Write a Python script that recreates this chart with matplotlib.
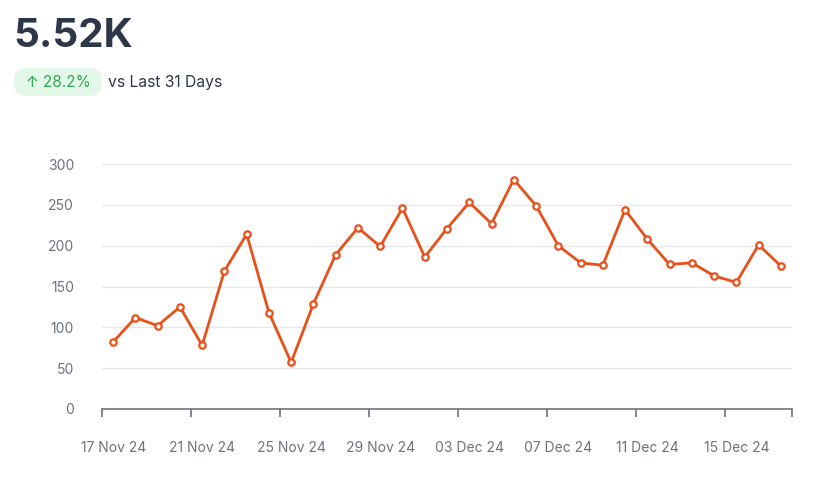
import matplotlib
matplotlib.use("Agg")
import matplotlib.pyplot as plt
from matplotlib.patches import FancyBboxPatch
import numpy as np

plt.rcParams['font.family'] = ['Inter', 'DejaVu Sans']

dates = ["17 Nov 24", "18 Nov 24", "19 Nov 24", "20 Nov 24", "21 Nov 24", "22 Nov 24",
         "23 Nov 24", "24 Nov 24", "25 Nov 24", "26 Nov 24", "27 Nov 24", "28 Nov 24",
         "29 Nov 24", "30 Nov 24", "01 Dec 24", "02 Dec 24", "03 Dec 24", "04 Dec 24",
         "05 Dec 24", "06 Dec 24", "07 Dec 24", "08 Dec 24", "09 Dec 24", "10 Dec 24",
         "11 Dec 24", "12 Dec 24", "13 Dec 24", "14 Dec 24", "15 Dec 24", "16 Dec 24",
         "17 Dec 24"]
values = [82, 112, 102, 125, 78, 169, 214, 118, 57, 129, 189, 222, 199, 246, 186,
          221, 253, 227, 281, 249, 200, 179, 176, 244, 208, 177, 179, 163, 155, 201, 175]
yticks = [0, 50, 100, 150, 200, 250, 300]
headline = "5.52K"
change = "↑ 28.2%"
compare = "vs Last 31 Days"

W, H = 821, 478
fig = plt.figure(figsize=(W / 100, H / 100), dpi=100)

# overlay in pixel coordinates for header elements
ov = fig.add_axes([0, 0, 1, 1])
ov.set_xlim(0, W)
ov.set_ylim(H, 0)
ov.axis("off")

ax = fig.add_axes([102 / W, (H - 409) / H, 690 / W, 245 / H])

x = np.arange(len(values))
line_color = "#e8501a"
ax.plot(x, values, color=line_color, lw=2, marker="o", ms=4.6,
        markerfacecolor="white", markeredgecolor=line_color, markeredgewidth=1.6,
        zorder=3, clip_on=False)

ax.set_xlim(-0.5, len(values) - 0.5)
ax.set_ylim(0, 300)
ax.set_yticks(yticks)
ax.set_yticklabels([str(v) for v in yticks])
ax.grid(axis="y", color="#e5e7eb", lw=1)
ax.set_axisbelow(True)

for s in ["top", "right", "left"]:
    ax.spines[s].set_visible(False)
ax.spines["bottom"].set_color("#6b7280")
ax.spines["bottom"].set_linewidth(1.2)

label_idx = list(range(0, len(values), 4))
ax.set_xticks(label_idx)
ax.set_xticklabels([dates[i] for i in label_idx])
ax.set_xticks(np.arange(-0.5, len(values), 4).tolist() + [len(values) - 0.5], minor=True)
ax.tick_params(axis="x", which="major", length=0, pad=23, labelsize=10, labelcolor="#6b7280")
ax.tick_params(axis="x", which="minor", length=6, width=1.2, color="#6b7280", direction="out")
ax.tick_params(axis="y", length=0, pad=20, labelsize=10, labelcolor="#6b7280")

# Header
ov.text(13, 36, headline, fontsize=29, fontweight="bold",
        color="#2d3748", va="center", ha="left")
pill = FancyBboxPatch((14, 68), 88, 28, boxstyle="round,pad=0,rounding_size=13",
                      facecolor="#e3f8e9", edgecolor="none")
ov.add_patch(pill)
ov.text(58, 82, change, fontsize=11, color="#2fa84f", va="center", ha="center")
ov.text(108, 82, compare, fontsize=11.3, color="#2d3748", va="center", ha="left")

fig.savefig("out.png", dpi=100, facecolor="white")
